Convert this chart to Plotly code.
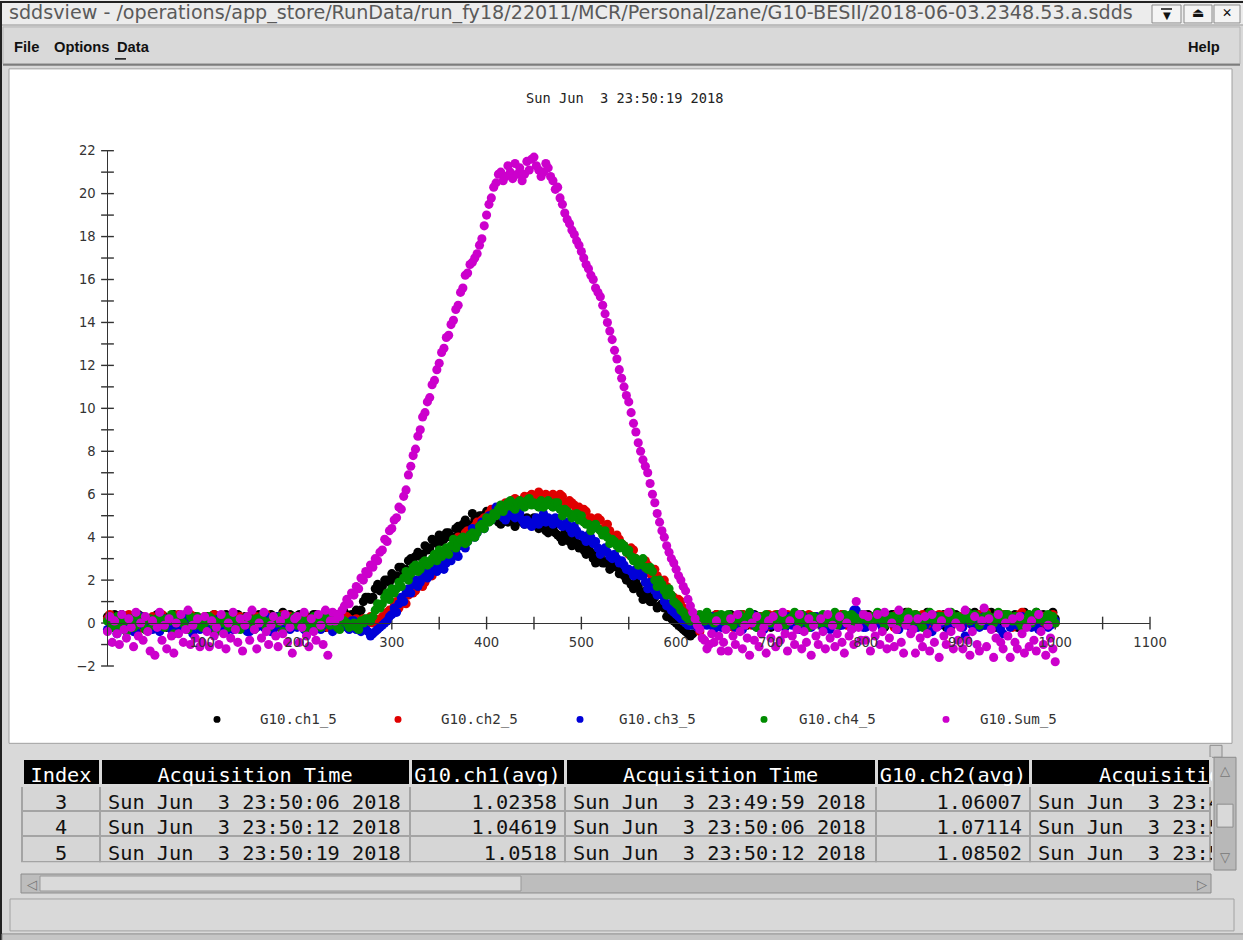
import plotly.graph_objects as go

# ---------------- data ----------------
X = [i * 2.5 for i in range(401)]  # sample position, 0 .. 1000

CH1 = [0.3, 0.1, -0.2, 0.4, 0.1, -0.1, 0.4, 0.2, -0.1, 0.3, 0.2, -0.2, 0.0, 0.4, 0.3, 0.0, -0.3, 0.2, 0.1, -0.1,
       0.2, 0.4, -0.1, 0.1, 0.3, -0.2, 0.0, 0.3, 0.4, 0.0, -0.2, 0.2, 0.1, 0.4, 0.3, -0.1, -0.1, 0.3, 0.2, 0.0,
       0.0, 0.2, 0.3, -0.1, -0.3, 0.4, 0.2, 0.1, 0.1, -0.2, 0.4, 0.3, -0.1, 0.0, 0.2, 0.4, 0.0, -0.2, 0.3, 0.1,
       -0.2, 0.3, 0.1, 0.0, 0.4, 0.2, 0.0, -0.1, 0.2, 0.4, -0.1, 0.1, 0.3, -0.2, 0.5, 0.2, 0.1, 0.4, -0.2, 0.0,
       0.2, 0.4, 0.0, -0.1, 0.3, 0.1, -0.1, 0.4, 0.4, 0.0, 0.1, 0.3, -0.2, 0.1, 0.3, 0.0, 0.2, 0.4, 0.0, 0.2,
       0.5, 0.1, 0.0, 0.4, 0.4, 0.6, 0.4, 0.6, 1.0, 1.2, 1.2, 1.1, 1.2, 1.6, 1.8, 1.5, 1.7, 2.0, 2.0, 1.9,
       2.3, 2.1, 2.2, 2.6, 2.6, 2.4, 2.5, 2.9, 3.0, 2.8, 3.1, 3.3, 3.1, 3.2, 3.6, 3.4, 3.5, 3.9, 3.8, 3.7,
       4.1, 3.8, 3.9, 4.2, 4.2, 4.0, 4.0, 4.4, 4.5, 4.3, 4.6, 4.8, 4.6, 4.5, 5.1, 4.8, 4.7, 5.0, 5.0, 4.7,
       5.2, 4.9, 4.8, 5.0, 4.9, 4.7, 4.6, 4.9, 5.0, 4.7, 4.8, 5.0, 4.5, 4.8, 5.0, 4.7, 4.6, 4.9, 4.8, 4.6,
       4.9, 4.6, 4.4, 4.7, 4.6, 4.3, 4.2, 4.5, 4.4, 4.2, 4.1, 4.0, 3.8, 4.2, 4.1, 3.8, 3.6, 3.9, 3.7, 3.5,
       3.7, 3.4, 3.2, 3.5, 3.3, 3.0, 2.8, 3.2, 3.1, 2.8, 2.8, 2.9, 2.5, 2.6, 2.8, 2.6, 2.3, 2.4, 2.2, 2.0,
       2.2, 1.8, 1.6, 1.9, 1.7, 1.4, 1.1, 1.5, 1.3, 1.0, 1.0, 1.2, 0.7, 0.8, 0.9, 0.7, 0.3, 0.5, 0.2, 0.1,
       0.0, -0.1, -0.2, -0.3, -0.4, -0.5, -0.6, -0.5, 0.1, 0.3, 0.2, -0.1, 0.0, 0.2, 0.3, 0.0, 0.1, 0.4, -0.1, 0.2,
       0.2, 0.0, 0.3, 0.4, 0.0, -0.1, 0.1, 0.3, 0.4, 0.1, -0.1, 0.2, 0.2, 0.4, 0.0, -0.2, 0.3, 0.1, 0.1, 0.3,
       -0.2, 0.1, 0.2, 0.4, 0.4, -0.1, 0.0, 0.2, 0.1, 0.3, 0.3, 0.0, -0.1, 0.4, 0.2, -0.1, 0.1, 0.3, 0.3, 0.0,
       0.0, 0.3, 0.2, -0.1, -0.2, 0.1, 0.3, 0.4, 0.1, -0.1, 0.4, 0.2, 0.0, 0.3, 0.2, -0.2, -0.1, 0.2, 0.3, 0.1,
       0.1, 0.4, 0.0, -0.1, 0.3, 0.2, 0.2, 0.0, -0.2, 0.3, 0.1, 0.4, 0.4, -0.1, 0.0, 0.2, 0.2, 0.5, 0.3, 0.0,
       -0.1, 0.3, 0.2, 0.0, 0.1, 0.4, 0.5, 0.1, 0.0, 0.2, 0.3, -0.1, 0.1, 0.4, -0.2, 0.3, 0.2, 0.0, 0.4, 0.1,
       0.1, -0.1, 0.3, 0.5, 0.0, 0.2, 0.5, 0.1, 0.2, 0.4, -0.1, 0.0, 0.3, 0.5, 0.1, -0.2, 0.2, 0.3, 0.0, 0.4,
       0.3, 0.0, 0.1, 0.4, -0.2, 0.1, 0.2, 0.5, 0.4, 0.0, 0.0, 0.3, 0.5, 0.1, 0.2, 0.4, 0.1, -0.1, 0.3, 0.5,
       0.2]

CH2 = [0.2, 0.4, 0.0, -0.2, -0.3, 0.1, 0.3, 0.0, 0.1, 0.4, -0.1, 0.2, 0.4, -0.3, 0.0, 0.3, 0.2, 0.1, -0.2, 0.3,
       0.1, -0.1, 0.3, 0.4, -0.1, 0.0, 0.2, 0.3, 0.0, -0.2, 0.4, 0.1, -0.2, 0.3, 0.1, 0.4, 0.3, -0.1, 0.0, 0.2,
       -0.1, 0.3, 0.2, 0.0, 0.0, 0.4, 0.3, -0.2, -0.3, 0.2, 0.1, 0.0, 0.2, 0.4, -0.1, 0.1, 0.3, -0.2, 0.0, 0.3,
       0.2, 0.0, -0.2, 0.3, 0.1, -0.1, 0.3, 0.4, 0.0, 0.1, 0.2, -0.2, -0.1, 0.3, 0.4, 0.0, 0.1, 0.3, 0.0, -0.1,
       0.3, 0.0, 0.1, 0.4, -0.2, 0.1, 0.2, -0.1, 0.0, 0.3, 0.3, 0.1, 0.1, -0.2, -0.1, 0.3, 0.2, 0.0, 0.0, 0.2,
       0.1, 0.3, 0.2, -0.1, -0.1, 0.2, 0.0, 0.1, 0.2, -0.1, 0.1, 0.3, 0.0, 0.2, 0.1, 0.0, 0.3, 0.2, 0.5, 0.6,
       0.5, 0.8, 1.0, 0.7, 0.9, 1.2, 0.9, 1.3, 1.6, 1.4, 1.5, 1.9, 2.0, 1.7, 1.9, 2.3, 2.5, 2.2, 2.6, 2.8,
       2.8, 3.1, 3.3, 3.0, 3.3, 3.5, 3.3, 3.6, 4.0, 3.7, 3.9, 4.2, 4.3, 4.0, 4.2, 4.5, 4.7, 4.4, 4.8, 4.9,
       4.8, 5.1, 5.3, 5.0, 5.2, 5.4, 5.1, 5.5, 5.6, 5.3, 5.4, 5.7, 5.8, 5.5, 5.4, 5.7, 5.9, 5.6, 5.9, 6.0,
       5.9, 5.8, 6.1, 5.9, 5.9, 6.0, 5.6, 5.8, 6.0, 5.7, 5.8, 6.0, 5.9, 5.6, 5.4, 5.7, 5.6, 5.5, 5.3, 5.4,
       5.0, 5.3, 5.2, 4.8, 4.9, 4.7, 4.5, 4.9, 4.8, 4.4, 4.3, 4.6, 4.3, 4.0, 3.8, 4.1, 3.9, 3.7, 3.6, 3.4,
       3.2, 3.5, 3.4, 3.0, 2.9, 2.8, 2.5, 2.9, 2.7, 2.3, 2.2, 2.5, 2.2, 1.9, 1.7, 2.0, 1.7, 1.4, 1.3, 1.2,
       0.9, 1.1, 1.0, 0.7, 0.5, 0.4, 0.0, 0.1, 0.2, -0.2, -0.4, 0.3, 0.1, 0.0, 0.3, 0.2, -0.1, 0.4, 0.2, 0.0,
       0.0, 0.2, 0.3, -0.1, -0.2, 0.3, 0.1, 0.4, 0.4, 0.0, 0.0, 0.2, -0.1, 0.3, 0.2, -0.2, 0.3, 0.1, -0.2, 0.4,
       0.1, 0.3, 0.4, -0.1, 0.0, 0.2, -0.2, 0.4, 0.2, 0.0, 0.3, 0.1, -0.1, 0.3, 0.1, -0.2, 0.4, 0.2, 0.0, 0.3,
       0.2, 0.0, -0.2, 0.3, 0.3, -0.1, 0.1, 0.4, 0.0, 0.2, 0.4, 0.0, -0.1, 0.3, 0.2, 0.1, 0.3, -0.1, 0.0, 0.4,
       -0.1, 0.2, 0.3, 0.0, 0.1, 0.4, 0.4, -0.1, 0.0, 0.3, 0.2, 0.1, -0.2, 0.4, 0.3, 0.0, 0.1, 0.3, 0.5, 0.2,
       0.0, 0.4, 0.2, -0.1, 0.4, 0.1, -0.1, 0.3, 0.3, 0.0, 0.1, 0.4, 0.0, 0.2, 0.4, -0.1, -0.2, 0.3, 0.2, 0.0,
       0.3, 0.1, 0.0, 0.4, 0.2, -0.1, -0.1, 0.3, 0.4, 0.1, 0.1, 0.5, 0.3, 0.0, 0.0, 0.2, 0.2, 0.4, 0.4, 0.1,
       0.1, 0.3, -0.2, 0.0, 0.3, 0.4, 0.5, 0.1, 0.0, 0.3, 0.2, -0.1, 0.4, 0.2, -0.1, 0.3, 0.3, 0.0, 0.2, 0.4,
       0.0]

CH3 = [-0.3, 0.0, 0.1, -0.2, -0.5, 0.1, 0.2, -0.3, -0.1, 0.2, 0.0, -0.4, -0.4, 0.1, 0.3, -0.1, -0.2, 0.2, 0.1, -0.3,
       -0.1, 0.2, -0.4, -0.1, 0.2, 0.1, 0.0, -0.3, -0.3, 0.2, 0.1, -0.1, -0.2, 0.0, 0.3, -0.2, -0.5, 0.1, 0.0, -0.3,
       0.2, -0.1, -0.3, 0.1, 0.0, -0.2, -0.1, 0.2, 0.3, -0.3, -0.4, 0.0, 0.1, -0.3, -0.2, 0.1, 0.0, -0.1, 0.2, -0.4,
       -0.4, 0.1, 0.0, -0.2, 0.2, 0.0, -0.2, 0.3, 0.1, -0.4, -0.3, 0.0, 0.3, -0.1, 0.0, 0.2, -0.1, -0.3, 0.2, 0.1,
       -0.2, 0.2, 0.1, -0.3, -0.4, 0.0, 0.2, -0.1, 0.0, 0.3, -0.3, -0.1, 0.1, 0.2, -0.1, -0.4, 0.3, 0.0, -0.2, 0.1,
       0.0, -0.2, -0.3, 0.1, 0.1, -0.3, -0.1, -0.4, -0.2, -0.3, -0.4, -0.6, -0.5, -0.4, -0.3, -0.2, -0.1, 0.0, 0.1, 0.3,
       0.4, 0.7, 0.5, 0.9, 1.2, 1.0, 1.4, 1.6, 1.4, 1.8, 2.0, 1.7, 1.9, 2.2, 2.4, 2.1, 2.2, 2.5, 2.6, 2.4,
       2.6, 2.8, 2.5, 2.8, 3.0, 2.9, 3.2, 3.3, 3.1, 3.6, 3.8, 3.5, 3.8, 4.1, 4.4, 4.0, 4.2, 4.5, 4.7, 4.4,
       4.8, 5.0, 4.8, 5.1, 5.4, 5.1, 5.2, 4.9, 4.8, 5.0, 5.2, 5.0, 4.9, 5.2, 5.1, 4.8, 4.6, 4.8, 4.6, 4.5,
       4.7, 4.9, 4.6, 4.8, 5.1, 4.7, 4.9, 4.8, 4.6, 4.9, 4.8, 4.6, 4.5, 4.6, 4.7, 4.4, 4.2, 4.5, 4.3, 4.1,
       4.1, 4.0, 3.8, 4.1, 4.0, 3.7, 3.8, 3.5, 3.2, 3.4, 3.5, 3.3, 3.1, 3.0, 3.2, 3.0, 2.8, 2.9, 2.7, 2.5,
       2.5, 2.4, 2.2, 2.5, 2.5, 2.2, 2.2, 1.9, 1.6, 1.9, 1.8, 1.5, 1.3, 1.5, 1.3, 1.0, 0.8, 0.9, 0.6, 0.5,
       0.4, 0.3, 0.2, 0.1, 0.0, -0.1, -0.1, 0.0, 0.1, -0.2, -0.2, 0.1, 0.2, -0.1, 0.0, 0.3, -0.3, 0.0, 0.1, -0.2,
       0.3, 0.0, -0.1, 0.2, 0.0, -0.2, 0.2, 0.1, -0.3, 0.0, 0.1, 0.3, 0.4, -0.1, -0.2, 0.1, 0.0, -0.3, 0.2, 0.1,
       -0.1, 0.2, 0.3, -0.2, 0.0, 0.1, -0.2, 0.3, 0.2, -0.1, 0.1, 0.0, -0.3, 0.2, 0.3, 0.0, 0.0, -0.2, 0.1, 0.3,
       0.2, 0.0, -0.2, 0.1, 0.1, -0.3, 0.3, 0.2, 0.0, -0.1, -0.1, 0.3, 0.2, 0.0, 0.4, 0.6, 0.6, 0.3, 0.1, -0.2,
       -0.2, 0.1, 0.1, -0.1, 0.3, 0.2, 0.0, -0.2, -0.1, 0.3, 0.2, 0.0, 0.0, -0.1, -0.3, 0.1, 0.1, 0.3, 0.3, -0.2,
       0.0, 0.2, -0.2, 0.1, 0.2, -0.1, 0.1, 0.3, -0.4, 0.0, 0.3, -0.1, 0.0, 0.2, 0.1, -0.3, -0.1, 0.1, 0.2, 0.0,
       0.1, -0.2, -0.6, 0.1, 0.2, -0.1, 0.0, 0.3, -0.2, 0.1, 0.3, -0.1, 0.1, 0.2, -0.1, 0.0, 0.2, -0.3, -0.5, 0.1,
       0.0, -0.2, 0.2, 0.1, -0.1, 0.3, 0.3, -0.1, 0.1, 0.0, -0.2, 0.2, 0.0, -0.3, 0.2, 0.1, 0.1, -0.2, -0.1, 0.2,
       0.1]

CH4 = [0.1, 0.3, -0.2, 0.0, 0.3, -0.1, 0.0, 0.2, -0.4, 0.1, 0.2, -0.2, -0.1, 0.3, 0.1, 0.0, -0.3, 0.2, 0.2, -0.1,
       0.0, 0.2, 0.3, -0.1, -0.2, 0.2, 0.1, 0.4, -0.5, 0.0, 0.2, 0.1, 0.0, -0.2, -0.3, 0.3, 0.1, -0.1, 0.3, 0.2,
       -0.2, 0.0, 0.1, 0.3, 0.2, -0.1, -0.4, 0.1, 0.0, 0.3, 0.3, -0.2, -0.1, 0.2, 0.1, -0.1, -0.3, 0.2, 0.0, 0.3,
       0.2, -0.1, -0.3, 0.2, 0.0, 0.3, 0.1, -0.2, -0.2, 0.1, 0.3, 0.0, 0.0, 0.3, -0.4, 0.1, 0.2, -0.1, 0.1, 0.3,
       -0.1, 0.1, 0.2, -0.2, -0.3, 0.1, 0.0, 0.3, 0.1, -0.1, -0.2, 0.2, 0.3, 0.0, -0.1, 0.2, 0.0, -0.2, -0.3, 0.1,
       0.1, 0.0, -0.2, -0.1, 0.0, -0.2, -0.3, 0.1, 0.0, 0.2, 0.2, 0.1, 0.3, 0.6, 0.9, 0.7, 0.9, 1.2, 1.4, 1.1,
       1.6, 1.4, 1.6, 1.9, 1.7, 2.1, 2.4, 2.0, 2.3, 2.6, 2.7, 2.4, 2.5, 2.8, 2.9, 2.7, 2.8, 3.0, 3.2, 2.9,
       3.4, 3.1, 3.2, 3.5, 3.2, 3.6, 3.9, 3.5, 3.7, 3.9, 4.0, 3.7, 3.8, 4.1, 4.2, 4.0, 4.2, 4.5, 4.6, 4.4,
       4.9, 4.7, 4.8, 5.1, 5.0, 5.3, 5.5, 5.2, 5.4, 5.6, 5.7, 5.4, 5.3, 5.6, 5.7, 5.5, 5.4, 5.7, 5.8, 5.5,
       5.6, 5.5, 5.4, 5.7, 5.4, 5.5, 5.7, 5.5, 5.4, 5.6, 5.6, 5.3, 5.0, 5.3, 5.2, 5.1, 4.9, 5.0, 5.1, 4.8,
       5.0, 4.7, 4.6, 4.6, 4.3, 4.5, 4.6, 4.4, 4.3, 4.1, 4.3, 4.0, 3.7, 3.9, 3.8, 3.6, 3.5, 3.7, 3.6, 3.3,
       3.4, 3.1, 2.9, 3.0, 2.7, 2.9, 3.0, 2.6, 2.5, 2.6, 2.4, 2.0, 1.7, 2.0, 1.8, 1.5, 1.3, 1.6, 1.3, 1.0,
       0.9, 0.8, 0.6, 0.5, 0.3, 0.2, 0.1, 0.3, 0.2, 0.0, 0.4, 0.2, 0.1, 0.5, 0.3, 0.1, 0.0, 0.3, 0.2, 0.4,
       0.1, 0.3, 0.4, 0.0, -0.1, 0.2, 0.2, 0.4, 0.0, 0.1, 0.3, 0.5, 0.1, 0.0, -0.2, 0.3, 0.2, 0.1, 0.4, 0.2,
       0.0, 0.3, 0.2, 0.4, 0.3, 0.0, -0.1, 0.2, 0.1, 0.3, 0.5, 0.2, 0.0, 0.4, 0.2, 0.1, -0.2, 0.3, 0.3, 0.1,
       0.2, 0.0, 0.4, 0.3, 0.0, 0.2, 0.3, 0.5, -0.1, 0.1, 0.2, 0.4, 0.1, 0.0, 0.4, 0.3, 0.0, 0.2, 0.2, 0.4,
       0.3, 0.1, 0.0, 0.3, 0.2, 0.5, 0.4, 0.1, -0.1, 0.2, 0.1, 0.3, 0.3, 0.0, 0.0, 0.4, 0.2, 0.1, 0.5, 0.3,
       0.1, 0.4, 0.3, 0.0, -0.2, 0.2, 0.2, 0.5, 0.4, 0.1, 0.0, 0.3, 0.3, 0.2, 0.1, 0.4, 0.5, 0.2, 0.2, 0.3,
       0.0, 0.2, 0.3, 0.5, 0.1, 0.2, 0.4, 0.3, -0.1, 0.2, 0.2, 0.4, 0.3, 0.1, 0.0, 0.3, 0.5, 0.2, 0.2, 0.4,
       0.4, 0.2, 0.1, 0.3, 0.3, 0.0, -0.2, 0.2, 0.2, 0.4, 0.0, 0.3, 0.5, 0.2, 0.3, 0.1, 0.1, 0.4, 0.2, 0.3,
       0.0]

SUM = [-0.4, 0.3, -0.9, 0.1, -0.5, -1.0, 0.4, -0.3, -0.7, 0.2, -0.2, -1.1, 0.5, -0.6, 0.0, -0.8, 0.3, -0.4, -1.3, 0.1,
       -1.5, -0.2, 0.5, -0.8, -0.1, -1.2, 0.2, -0.6, -1.4, 0.0, -0.5, 0.4, -0.9, -0.3, 0.6, -1.0, -0.1, -0.7, 0.2, -1.1,
       -0.9, 0.3, -0.4, -1.1, 0.1, -0.6, -0.2, -1.0, 0.4, -0.5, -1.2, 0.0, -0.7, 0.5, -0.3, -0.9, 0.2, -1.3, -0.1, 0.3,
       -0.8, 0.6, -0.3, -1.2, 0.0, -0.7, 0.5, -0.4, -1.0, -0.1, 0.3, -0.6, -1.1, 0.1, -0.5, 0.4, -0.9, -0.2, -1.4, 0.2,
       0.3, -0.9, -0.2, 0.5, -0.6, -1.1, 0.2, -0.4, -0.8, 0.4, -0.1, -1.0, 0.6, -1.5, 0.1, 0.5, 0.1, 0.4, 0.3, 0.6,
       0.8, 1.1, 0.9, 1.4, 1.3, 1.7, 1.6, 2.1, 2.0, 2.4, 2.3, 2.7, 2.6, 3.0, 2.9, 3.3, 3.4, 3.9, 3.8, 4.3,
       4.4, 4.8, 4.9, 5.4, 5.3, 5.9, 6.2, 6.9, 7.3, 7.8, 8.1, 8.7, 9.0, 9.6, 9.8, 10.3, 10.5, 11.1, 11.3, 11.8,
       12.1, 12.6, 12.8, 13.3, 13.4, 13.9, 14.1, 14.6, 14.8, 15.4, 15.6, 16.2, 16.3, 16.7, 16.8, 17.0, 17.2, 17.6, 17.9, 18.5,
       19.0, 19.5, 19.8, 20.3, 20.5, 20.9, 21.0, 20.6, 20.8, 21.3, 21.0, 20.7, 21.4, 20.9, 21.2, 20.6, 20.9, 21.5, 21.1, 21.6,
       21.7, 21.3, 21.1, 20.8, 21.0, 21.4, 21.2, 20.8, 20.6, 20.2, 20.3, 19.8, 19.5, 19.1, 18.8, 18.6, 18.3, 18.1, 17.8, 17.6,
       17.3, 17.0, 16.7, 16.5, 16.2, 16.0, 15.6, 15.4, 15.2, 14.8, 14.4, 14.0, 13.6, 13.2, 12.7, 12.3, 11.8, 11.4, 11.0, 10.6,
       10.3, 9.8, 9.3, 8.9, 8.4, 8.0, 7.6, 7.3, 7.0, 6.5, 6.0, 5.6, 5.1, 4.7, 4.3, 4.0, 3.6, 3.3, 3.0, 2.8,
       2.5, 2.2, 2.0, 1.7, 1.5, 1.1, 0.8, 0.5, 0.2, -0.1, -0.3, -0.7, -0.8, -1.2, -1.0, -0.5, -0.9, 0.1, -0.6, -1.3,
       -0.9, -0.3, -1.3, 0.2, -0.6, -1.0, 0.4, -0.4, -1.2, -0.1, -0.7, -1.5, 0.0, -0.8, 0.3, -1.1, -0.5, -0.2, -1.4, 0.1,
       -0.7, 0.3, -1.1, -0.2, -0.8, 0.5, -0.5, -1.3, 0.1, -0.6, -1.0, -0.3, 0.4, -1.2, -0.4, -0.9, 0.2, -1.5, -0.1, -0.6,
       -1.0, 0.2, -0.4, -1.2, 0.4, -0.7, -0.1, -1.1, -0.5, 0.3, -0.9, -1.4, 0.0, -0.6, -0.3, -1.0, 1.0, -0.2, -0.8, 0.4,
       -0.8, 0.3, -1.3, -0.2, -0.6, 0.4, -1.0, -0.4, 0.5, -1.2, -0.7, 0.0, -1.1, -0.3, 0.6, -0.9, -1.4, -0.1, 0.2, -0.5,
       -0.3, -1.4, 0.2, -0.7, -1.1, 0.3, -0.5, -1.3, 0.4, -0.9, -0.2, -1.6, 0.1, -0.6, -1.0, 0.5, -0.4, -1.2, 0.0, -0.8,
       -0.2, -1.2, 0.6, -0.8, -1.5, -0.4, 0.3, -1.0, -1.3, 0.1, 0.7, -1.1, 0.2, -0.3, -1.6, -0.7, 0.4, -0.9, -1.2, 0.0,
       -0.6, -1.6, 0.2, -0.9, -1.2, 0.3, -0.5, -1.4, -0.2, -1.1, 0.1, -0.8, -1.3, 0.4, -0.4, -1.0, -1.5, -0.1, -0.7, -1.2,
       -1.8]

SERIES = [CH1, CH2, CH3, CH4, SUM]
SERIES_NAMES = ["G10.ch1_5", "G10.ch2_5", "G10.ch3_5", "G10.ch4_5", "G10.Sum_5"]
COLORS = ["#000000", "#e00000", "#0000d8", "#008c00", "#cc00cc"]

X_RANGE = [0, 1100]
Y_RANGE = [-2, 22]
X_LABEL_TICKS = [100, 200, 300, 400, 500, 600, 700, 800, 900, 1000, 1100]
Y_LABEL_TICKS = [-2, 0, 2, 4, 6, 8, 10, 12, 14, 16, 18, 20, 22]
X_TICK_MARKS = [0, 50, 100, 150, 200, 250, 300, 350, 400, 450, 500, 550, 600,
                650, 700, 750, 800, 850, 900, 950, 1000, 1050, 1100]
Y_TICK_MARKS = [-2, -1, 0, 1, 2, 3, 4, 5, 6, 7, 8, 9, 10, 11, 12, 13, 14, 15,
                16, 17, 18, 19, 20, 21, 22]

PLOT_TITLE = "Sun Jun  3 23:50:19 2018"
WINDOW_TITLE = ("sddsview - /operations/app_store/RunData/run_fy18/22011/MCR/"
                "Personal/zane/G10-BESII/2018-06-03.2348.53.a.sdds")

# table
TABLE_HEADERS = ["Index", "Acquisition Time", "G10.ch1(avg)",
                 "Acquisition Time", "G10.ch2(avg)", "     Acquisition Time"]
T_INDEX = ["3", "4", "5"]
T_TIME1 = ["Sun Jun  3 23:50:06 2018", "Sun Jun  3 23:50:12 2018", "Sun Jun  3 23:50:19 2018"]
T_CH1 = ["1.02358", "1.04619", "1.0518"]
T_TIME2 = ["Sun Jun  3 23:49:59 2018", "Sun Jun  3 23:50:06 2018", "Sun Jun  3 23:50:12 2018"]
T_CH2 = ["1.06007", "1.07114", "1.08502"]
T_TIME3 = ["Sun Jun  3 23:49:53 2018", "Sun Jun  3 23:50:00 2018", "Sun Jun  3 23:50:06 2018"]


def nb(s):
    return s.replace(" ", "\u00a0")


# ---------------- geometry (target picture pixels -> page) ----------------
TW, TH = 1243, 940          # target picture size
S = 0.9865                  # observed page->picture scale of the viewer
OY = 6.0                    # observed vertical offset of the viewer
CW, CH = 1260, 953          # figure size in page pixels


def fx(p):
    return (p / S) / CW


def fy(p):
    return 1 - ((p - OY) / S) / CH


def fs(v):
    return v / S


PLOT_L, PLOT_R = 107.5, 1150.0
PLOT_T, PLOT_B = 150.0, 666.5
Y0_PIX = 623.5

fig = go.Figure()

# tick marks (crossing the axes)
fig.add_trace(go.Scatter(
    x=X_TICK_MARKS, y=[0] * len(X_TICK_MARKS), mode="markers",
    marker=dict(symbol="line-ns", size=fs(9), line=dict(width=1.4, color="#333333")),
    hoverinfo="skip", showlegend=False, cliponaxis=False))
fig.add_trace(go.Scatter(
    x=[0] * len(Y_TICK_MARKS), y=Y_TICK_MARKS, mode="markers",
    marker=dict(symbol="line-ew", size=fs(9), line=dict(width=1.4, color="#333333")),
    hoverinfo="skip", showlegend=False, cliponaxis=False))

for vals, name, col in zip(SERIES, SERIES_NAMES, COLORS):
    fig.add_trace(go.Scatter(
        x=X, y=vals, mode="markers", name=name,
        marker=dict(size=fs(9), color=col, line=dict(width=0)),
        showlegend=False, cliponaxis=False))

# table
fig.add_trace(go.Table(
    domain=dict(x=[fx(22), fx(1210)], y=[fy(864), fy(759)]),
    columnwidth=[78, 310, 155, 311, 154, 180],
    header=dict(values=[nb(h) for h in TABLE_HEADERS],
                fill_color="#000000",
                line=dict(color="#d9d9d9", width=3),
                font=dict(family="DejaVu Sans Mono", size=fs(20), color="white"),
                align=["center", "center", "center", "center", "center", "left"],
                height=fs(27)),
    cells=dict(values=[T_INDEX, [nb(s) for s in T_TIME1], T_CH1,
                       [nb(s) for s in T_TIME2], T_CH2, [nb(s) for s in T_TIME3]],
               fill_color="#d6d6d6",
               line=dict(color="#a4a4a4", width=2),
               font=dict(family="DejaVu Sans Mono", size=fs(20), color="#111111"),
               align=["center", "left", "right", "left", "right", "left"],
               height=fs(25))))

shapes = []


def rect(x0, y0, x1, y1, fill, line=None, lw=1, layer="below"):
    shapes.append(dict(type="rect", xref="paper", yref="paper",
                       x0=fx(x0), x1=fx(x1), y0=fy(y1), y1=fy(y0),
                       fillcolor=fill, layer=layer,
                       line=dict(color=line or fill, width=lw if line else 0)))


def hline(x0, x1, y, color, w=1, layer="below"):
    shapes.append(dict(type="line", xref="paper", yref="paper",
                       x0=fx(x0), x1=fx(x1), y0=fy(y), y1=fy(y),
                       line=dict(color=color, width=w), layer=layer))


def vline(x, y0, y1, color, w=1, layer="below"):
    shapes.append(dict(type="line", xref="paper", yref="paper",
                       x0=fx(x), x1=fx(x), y0=fy(y0), y1=fy(y1),
                       line=dict(color=color, width=w), layer=layer))


# title bar
rect(-10, -10, TW + 20, 24, "#ececec")
hline(0, TW + 20, 1, "#222222", 2)
vline(1, 0, TH + 20, "#222222", 2)
hline(2, TW + 20, 24, "#9a9a9a", 1)
for bx0, bx1 in [(1152, 1181), (1184, 1212), (1214, 1240)]:
    rect(bx0, 4, bx1, 22, "#f4f4f4", "#8a8a8a", 1)
hline(1161, 1172, 8, "#111111", 1.5)
# menu bar
rect(3, 26, TW - 3, 63, "#d9d9d9", "#b5b5b5", 1)
hline(3, TW - 3, 64, "#7c7c7c", 2)
hline(115, 126, 58, "#111111", 1.5)
# plot canvas
rect(9, 68, 1232, 744, "#ffffff", "#a0a0a0", 1)
# sash grip
rect(1210, 746, 1222, 758, "#d0d0d0", "#8c8c8c", 1)
# vertical scrollbar
rect(1214, 758, 1236, 871, "#b8b8b8", "#8c8c8c", 1)
rect(1217, 805, 1233, 828, "#d9d9d9", "#8c8c8c", 1)
# horizontal scrollbar
rect(21, 875, 1211, 894, "#bdbdbd", "#8c8c8c", 1)
rect(40, 877, 521, 892, "#dadada", "#999999", 1)
# status area
rect(10, 900, 1234, 932, "#d9d9d9", "#a2a2a2", 1)
rect(2, 935, TW + 20, TH + 20, "#c6c6c6", "#8c8c8c", 1)

# legend dots
LEG_X = [217, 398, 580, 764, 946]
LEG_TXT_X = [258, 439, 617, 797, 978]
LEG_Y = 720
for lx, col in zip(LEG_X, COLORS):
    shapes.append(dict(type="circle", xref="paper", yref="paper",
                       x0=fx(lx - 3.5), x1=fx(lx + 3.5), y0=fy(LEG_Y + 3.5), y1=fy(LEG_Y - 3.5),
                       fillcolor=col, line=dict(width=0), layer="above"))

annotations = []


def text(x, y, s, size, color="#111111", family="DejaVu Sans", anchor="left", bold=False):
    annotations.append(dict(x=fx(x), y=fy(y), xref="paper", yref="paper",
                            text=("<b>%s</b>" % s) if bold else s, showarrow=False,
                            xanchor=anchor, yanchor="middle",
                            font=dict(family=family, size=fs(size), color=color)))


text(7, 12, WINDOW_TITLE, 18.9, "#5a5a5a", "DejaVu Sans")
text(1166.5, 15, "\u25bc", 10, "#111111", "DejaVu Sans", "center")
text(1198, 12, "\u23cf", 13, "#111111", "DejaVu Sans", "center")
text(1227, 12, "\u2715", 12, "#111111", "DejaVu Sans", "center", True)

MENU_FONT = "Liberation Sans"
text(12, 46, "File", 14.5, "#111111", MENU_FONT, "left", True)
text(52, 46, "Options", 14.5, "#111111", MENU_FONT, "left", True)
text(115, 46, "Data", 14.5, "#111111", MENU_FONT, "left", True)
text(1222, 46, "Help", 14.5, "#111111", MENU_FONT, "right", True)

text(625, 97, nb(PLOT_TITLE), 13.5, "#222222", "DejaVu Sans Mono", "center")

for tx, name in zip(LEG_TXT_X, SERIES_NAMES):
    text(tx, LEG_Y, name, 14, "#333333", "DejaVu Sans Mono", "left")

text(31, 885, "\u25c1", 13, "#777777", "DejaVu Sans", "center")
text(1202, 885, "\u25b7", 13, "#777777", "DejaVu Sans", "center")
text(1225, 771, "\u25b3", 13, "#777777", "DejaVu Sans", "center")
text(1225, 858, "\u25bd", 13, "#777777", "DejaVu Sans", "center")

fig.update_layout(
    width=CW, height=CH, autosize=False,
    margin=dict(l=0, r=0, t=0, b=0),
    paper_bgcolor="#d9d9d9", plot_bgcolor="rgba(0,0,0,0)",
    showlegend=False,
    shapes=shapes, annotations=annotations,
    xaxis=dict(range=X_RANGE, domain=[fx(PLOT_L), fx(PLOT_R)],
               anchor="free", position=fy(Y0_PIX),
               showgrid=False, zeroline=False, showline=True,
               linecolor="#333333", linewidth=1.4,
               ticks="", tickmode="array", tickvals=X_LABEL_TICKS,
               ticklabelstandoff=7,
               tickfont=dict(family="DejaVu Sans", size=fs(13), color="#333333")),
    yaxis=dict(range=Y_RANGE, domain=[fy(PLOT_B), fy(PLOT_T)],
               anchor="x", showgrid=False, zeroline=False, showline=True,
               linecolor="#333333", linewidth=1.4,
               ticks="", tickmode="array", tickvals=Y_LABEL_TICKS,
               ticklabelstandoff=8,
               tickfont=dict(family="DejaVu Sans", size=fs(13), color="#333333")),
)

PAGE_CSS = ("html,body{margin:0;padding:0;overflow:hidden;background:#d9d9d9;}"
            ".plotly-graph-div{position:absolute;left:0;top:0;}")

fig.write_html("out.html",
               config={"responsive": False, "displayModeBar": False},
               post_script="var s=document.createElement('style');"
                           "s.innerHTML='%s';document.head.appendChild(s);" % PAGE_CSS)
